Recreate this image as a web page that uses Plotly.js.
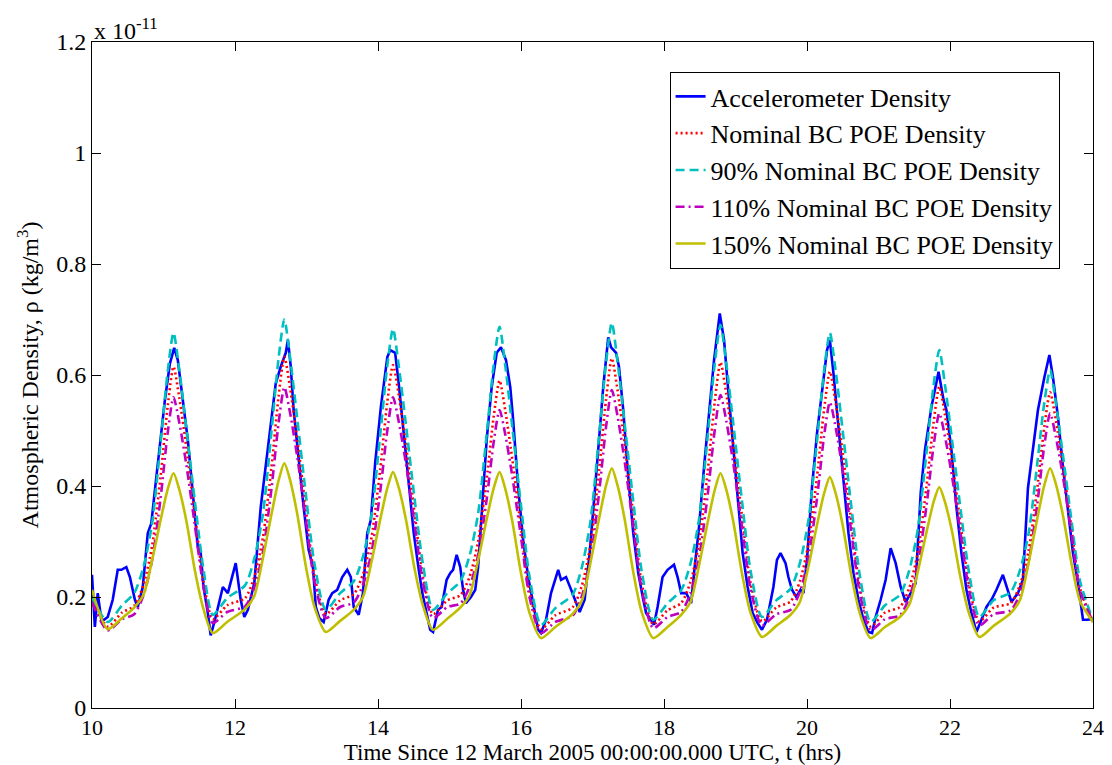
<!DOCTYPE html>
<html>
<head>
<meta charset="utf-8">
<script src="https://cdn.plot.ly/plotly-3.0.1.min.js"></script>
<style>html,body{margin:0;padding:0;background:#fff}#chart{width:1112px;height:765px}</style>
</head>
<body>
<div id="chart"></div>
<script>
// Time axis (hrs since 12 March 2005 00:00 UTC)
const tAcc = [10.00,10.01,10.04,10.08,10.13,10.17,10.22,10.29,10.36,10.41,10.48,10.53,10.60,10.64,10.71,10.78,10.83,10.88,10.95,11.02,11.09,11.15,11.20,11.27,11.34,11.41,11.48,11.52,11.56,11.62,11.66,11.72,11.79,11.83,11.90,11.94,12.01,12.08,12.13,12.18,12.27,12.36,12.47,12.57,12.64,12.71,12.74,12.78,12.82,12.89,12.96,13.03,13.09,13.13,13.18,13.24,13.31,13.36,13.43,13.50,13.57,13.62,13.66,13.73,13.79,13.85,13.90,13.96,14.04,14.13,14.17,14.24,14.29,14.36,14.43,14.50,14.57,14.62,14.68,14.73,14.77,14.84,14.89,14.96,15.01,15.05,15.10,15.15,15.19,15.23,15.30,15.36,15.40,15.45,15.52,15.59,15.66,15.72,15.79,15.85,15.89,15.96,16.03,16.10,16.17,16.24,16.28,16.35,16.42,16.52,16.56,16.63,16.72,16.82,16.89,16.96,17.08,17.15,17.22,17.26,17.33,17.37,17.43,17.50,17.57,17.64,17.71,17.75,17.79,17.86,17.91,17.98,18.05,18.14,18.19,18.24,18.31,18.38,18.42,18.49,18.56,18.63,18.70,18.78,18.84,18.89,18.96,19.03,19.10,19.17,19.24,19.31,19.37,19.44,19.49,19.53,19.58,19.63,19.70,19.74,19.79,19.85,19.91,19.95,20.00,20.07,20.14,20.21,20.28,20.32,20.37,20.44,20.51,20.58,20.65,20.72,20.79,20.86,20.91,20.96,21.03,21.10,21.17,21.24,21.31,21.38,21.45,21.52,21.59,21.65,21.74,21.84,21.91,21.95,22.02,22.09,22.16,22.23,22.30,22.37,22.44,22.51,22.58,22.65,22.74,22.82,22.86,22.95,23.02,23.09,23.16,23.23,23.32,23.39,23.44,23.51,23.58,23.65,23.72,23.79,23.86,23.91,24.00];
// Accelerometer density (x 1e-11 kg/m^3)
const accDensity = [0.240,0.213,0.146,0.207,0.159,0.159,0.164,0.195,0.249,0.249,0.254,0.236,0.195,0.182,0.218,0.315,0.333,0.393,0.477,0.555,0.621,0.649,0.627,0.560,0.483,0.387,0.290,0.279,0.218,0.171,0.131,0.159,0.195,0.218,0.207,0.225,0.261,0.195,0.164,0.177,0.225,0.362,0.483,0.585,0.615,0.640,0.663,0.615,0.537,0.447,0.362,0.285,0.254,0.182,0.162,0.155,0.195,0.207,0.213,0.236,0.249,0.236,0.182,0.168,0.207,0.315,0.339,0.441,0.542,0.632,0.645,0.640,0.585,0.495,0.398,0.315,0.249,0.207,0.171,0.141,0.137,0.177,0.182,0.231,0.243,0.249,0.276,0.254,0.213,0.189,0.200,0.213,0.254,0.351,0.483,0.578,0.640,0.650,0.627,0.578,0.519,0.398,0.303,0.236,0.189,0.141,0.135,0.159,0.207,0.249,0.231,0.236,0.207,0.173,0.195,0.279,0.465,0.578,0.668,0.650,0.640,0.615,0.537,0.416,0.315,0.243,0.195,0.171,0.164,0.150,0.182,0.236,0.249,0.258,0.236,0.207,0.207,0.189,0.243,0.326,0.434,0.537,0.627,0.711,0.663,0.585,0.483,0.375,0.279,0.218,0.171,0.153,0.141,0.159,0.195,0.218,0.267,0.279,0.261,0.236,0.213,0.200,0.213,0.207,0.267,0.398,0.495,0.567,0.645,0.663,0.603,0.506,0.411,0.315,0.243,0.195,0.159,0.137,0.135,0.164,0.195,0.231,0.288,0.261,0.218,0.191,0.207,0.225,0.387,0.465,0.542,0.606,0.555,0.537,0.465,0.362,0.279,0.213,0.171,0.137,0.159,0.182,0.195,0.213,0.240,0.207,0.191,0.207,0.231,0.396,0.465,0.537,0.596,0.636,0.596,0.524,0.434,0.351,0.279,0.225,0.159,0.159,0.160];

const tModel = [10.00,
 10.22,10.42,10.59,10.72,10.84,10.96,11.06,11.14,11.22,11.32,11.44,11.56,
 11.69,11.89,12.14,12.27,12.39,12.51,12.61,12.69,12.77,12.87,12.99,13.11,
 13.27,13.47,13.66,13.79,13.91,14.03,14.13,14.21,14.29,14.39,14.51,14.63,
 14.77,14.97,15.15,15.28,15.40,15.52,15.62,15.70,15.78,15.88,16.00,16.12,
 16.28,16.48,16.72,16.85,16.97,17.09,17.19,17.27,17.35,17.45,17.57,17.69,
 17.85,18.05,18.24,18.37,18.49,18.61,18.71,18.79,18.87,18.97,19.09,19.21,
 19.37,19.57,19.77,19.90,20.02,20.14,20.24,20.32,20.40,20.50,20.62,20.74,
 20.89,21.09,21.30,21.43,21.55,21.67,21.77,21.85,21.93,22.03,22.15,22.27,
 22.41,22.61,22.85,22.98,23.10,23.22,23.32,23.40,23.48,23.58,23.70,23.82,
 24.00];

const nominalBC = [0.195,
 0.147,0.172,0.184,0.222,0.292,0.418,0.545,0.615,0.560,0.469,0.347,0.228,
 0.160,0.185,0.198,0.236,0.307,0.434,0.562,0.633,0.577,0.485,0.359,0.239,
 0.169,0.194,0.205,0.241,0.308,0.429,0.551,0.618,0.564,0.474,0.353,0.236,
 0.169,0.194,0.203,0.236,0.300,0.413,0.527,0.590,0.536,0.447,0.326,0.209,
 0.142,0.167,0.181,0.220,0.293,0.425,0.557,0.630,0.573,0.477,0.347,0.223,
 0.151,0.176,0.189,0.227,0.297,0.425,0.552,0.623,0.567,0.474,0.347,0.226,
 0.156,0.181,0.192,0.228,0.296,0.417,0.539,0.606,0.551,0.459,0.335,0.216,
 0.147,0.172,0.182,0.216,0.281,0.398,0.514,0.579,0.528,0.444,0.329,0.219,
 0.156,0.181,0.189,0.222,0.284,0.396,0.507,0.569,0.519,0.436,0.323,0.215,
 0.156];

const bc90 = [0.200,
 0.155,0.185,0.207,0.254,0.332,0.478,0.608,0.676,0.610,0.503,0.371,0.249,
 0.168,0.198,0.221,0.269,0.349,0.498,0.631,0.700,0.632,0.522,0.386,0.261,
 0.177,0.207,0.228,0.273,0.349,0.491,0.617,0.683,0.617,0.511,0.379,0.258,
 0.177,0.207,0.228,0.274,0.350,0.493,0.621,0.687,0.617,0.504,0.365,0.236,
 0.150,0.180,0.204,0.253,0.335,0.487,0.623,0.694,0.624,0.512,0.373,0.245,
 0.159,0.189,0.212,0.260,0.340,0.488,0.621,0.690,0.622,0.511,0.374,0.248,
 0.164,0.194,0.215,0.261,0.338,0.481,0.609,0.676,0.608,0.499,0.363,0.238,
 0.155,0.185,0.204,0.248,0.322,0.459,0.581,0.645,0.582,0.481,0.356,0.241,
 0.164,0.194,0.209,0.249,0.315,0.440,0.551,0.609,0.550,0.455,0.337,0.228,
 0.158];

const bc110 = [0.190,
 0.140,0.160,0.169,0.203,0.266,0.379,0.497,0.560,0.515,0.438,0.328,0.218,
 0.153,0.173,0.183,0.217,0.281,0.395,0.514,0.578,0.532,0.453,0.341,0.229,
 0.162,0.182,0.190,0.222,0.281,0.389,0.500,0.560,0.516,0.441,0.333,0.226,
 0.162,0.182,0.188,0.218,0.275,0.376,0.481,0.537,0.493,0.416,0.308,0.199,
 0.135,0.155,0.166,0.201,0.266,0.385,0.507,0.573,0.526,0.444,0.328,0.213,
 0.144,0.164,0.173,0.207,0.270,0.383,0.501,0.564,0.518,0.440,0.327,0.215,
 0.149,0.169,0.177,0.209,0.270,0.378,0.491,0.551,0.506,0.428,0.317,0.206,
 0.140,0.160,0.167,0.199,0.257,0.363,0.472,0.531,0.489,0.416,0.313,0.210,
 0.149,0.169,0.176,0.206,0.264,0.367,0.474,0.531,0.489,0.417,0.314,0.211,
 0.155];

const bc150 = [0.213,
 0.142,0.162,0.181,0.204,0.266,0.339,0.395,0.423,0.394,0.337,0.247,0.178,
 0.135,0.155,0.178,0.202,0.270,0.349,0.410,0.441,0.411,0.350,0.256,0.183,
 0.137,0.157,0.177,0.200,0.264,0.339,0.396,0.425,0.397,0.340,0.252,0.184,
 0.141,0.161,0.181,0.203,0.266,0.340,0.397,0.425,0.395,0.335,0.243,0.171,
 0.126,0.146,0.169,0.193,0.261,0.340,0.401,0.432,0.401,0.340,0.245,0.172,
 0.126,0.146,0.168,0.191,0.257,0.334,0.393,0.423,0.394,0.335,0.243,0.172,
 0.128,0.148,0.168,0.191,0.255,0.330,0.387,0.416,0.387,0.329,0.239,0.170,
 0.126,0.146,0.164,0.186,0.246,0.316,0.371,0.398,0.371,0.317,0.233,0.169,
 0.128,0.148,0.171,0.195,0.262,0.341,0.402,0.432,0.404,0.347,0.260,0.192,
 0.155];

const seriesNames = ['Accelerometer Density','Nominal BC POE Density','90% Nominal BC POE Density','110% Nominal BC POE Density','150% Nominal BC POE Density'];
const xTicks = [10,12,14,16,18,20,22,24];
const yTicks = [0,0.2,0.4,0.6,0.8,1,1.2];
const yTickText = ['0','0.2','0.4','0.6','0.8','1','1.2'];

const FONT = '"Liberation Serif", "Times New Roman", serif';
const spl = {shape:'spline', smoothing:0.7};

const traces = [
  {x:tAcc, y:accDensity, name:seriesNames[0], mode:'lines', line:{color:'#0000ff', width:2.6}},
  {x:tModel, y:nominalBC, name:seriesNames[1], mode:'lines', line:Object.assign({color:'#ff0000', width:2.6, dash:'2px,3px'}, spl)},
  {x:tModel, y:bc90, name:seriesNames[2], mode:'lines', line:Object.assign({color:'#00bfbf', width:2.6, dash:'9px,5px'}, spl)},
  {x:tModel, y:bc110, name:seriesNames[3], mode:'lines', line:Object.assign({color:'#bf00bf', width:2.6, dash:'9px,4px,2px,4px'}, spl)},
  {x:tModel, y:bc150, name:seriesNames[4], mode:'lines', line:Object.assign({color:'#bfbf00', width:2.6}, spl)}
];

const axisCommon = {
  showline:true, linecolor:'#000', linewidth:1, mirror:'ticks',
  ticks:'inside', ticklen:9, tickcolor:'#000', tickwidth:1,
  showgrid:false, zeroline:false
};

const layout = {
  width:1112, height:765,
  margin:{l:92, r:19, t:42, b:57},
  paper_bgcolor:'#fff', plot_bgcolor:'#fff',
  showlegend:true,
  font:{family:FONT, color:'#000'},
  xaxis:Object.assign({}, axisCommon, {
    range:[10,24], tickvals:xTicks, ticktext:xTicks.map(String),
    tickfont:{family:FONT, size:22, color:'#000'},
    title:{text:'Time Since 12 March 2005 00:00:00.000 UTC, t (hrs)', font:{family:FONT, size:23, color:'#000'}, standoff:0},
    automargin:false
  }),
  yaxis:Object.assign({}, axisCommon, {
    range:[0,1.2], tickvals:yTicks, ticktext:yTickText,
    tickfont:{family:FONT, size:24, color:'#000'},
    title:{text:'Atmospheric Density, \u03C1 (kg/m<sup>3</sup>)', font:{family:FONT, size:24, color:'#000'}, standoff:10},
    automargin:false
  }),
  legend:{
    x:0.577, y:0.955, xanchor:'left', yanchor:'top',
    bgcolor:'#fff', bordercolor:'#000', borderwidth:1,
    font:{family:FONT, size:26, color:'#000'},
    tracegroupgap:0, itemwidth:30
  },
  annotations:[{
    xref:'paper', yref:'paper', x:0, y:1, xanchor:'left', yanchor:'bottom',
    text:'x 10<sup>-11</sup>', showarrow:false, font:{family:FONT, size:24, color:'#000'}, yshift:-4
  }]
};

Plotly.newPlot('chart', traces, layout, {staticPlot:true, displayModeBar:false});
</script>
</body>
</html>
